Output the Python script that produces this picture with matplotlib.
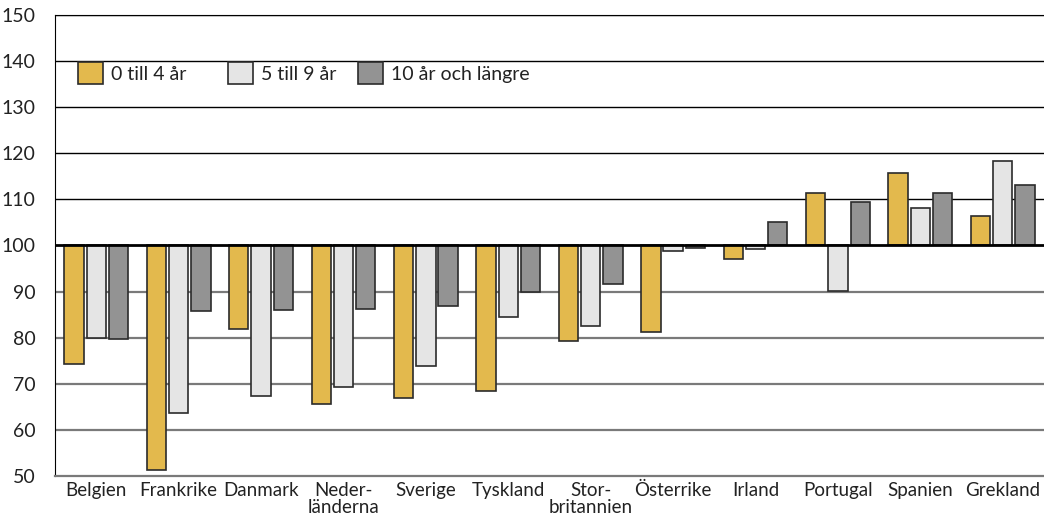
import matplotlib
matplotlib.use("Agg")
import matplotlib.pyplot as plt
import numpy as np
from matplotlib.patches import Patch
from matplotlib.legend import Legend

categories = ["Belgien", "Frankrike", "Danmark", "Neder-\nländerna", "Sverige", "Tyskland",
              "Stor-\nbritannien", "Österrike", "Irland", "Portugal", "Spanien", "Grekland"]
series_names = ["0 till 4 år", "5 till 9 år", "10 år och längre"]
s0_4 = [74.3, 51.3, 81.8, 65.6, 66.9, 68.4, 79.3, 81.2, 97.0, 111.4, 115.8, 106.5]
s5_9 = [80.0, 63.6, 67.4, 69.3, 73.8, 84.5, 82.5, 98.8, 99.2, 90.1, 108.1, 118.3]
s10 = [79.8, 85.9, 86.0, 86.2, 86.8, 90.0, 91.6, 99.5, 105.0, 109.4, 111.4, 113.2]
yticks = [50, 60, 70, 80, 90, 100, 110, 120, 130, 140, 150]
base = 100

colors = ["#E3B94D", "#E5E5E5", "#939393"]
edge = "#2b2b2b"

plt.rcParams['font.family'] = ['Lato', 'DejaVu Sans']
fig = plt.figure(figsize=(10.44, 5.17), dpi=100)
ax = fig.add_axes([55/1044, 1-476/517, 1-55/1044, (476-15)/517])

x = np.arange(len(categories))
w = 0.235
offs = [-0.27, 0.0, 0.27]
for vals, c, o, name in zip([s0_4, s5_9, s10], colors, offs, series_names):
    v = np.array(vals)
    ax.bar(x + o, v - base, bottom=base, width=w, color=c, edgecolor=edge,
           linewidth=1.2, zorder=2, label=name)

for yv in yticks:
    if yv > base:
        ax.axhline(yv, color="black", lw=1.0, zorder=1)
    elif base > yv > yticks[0]:
        ax.axhline(yv, color="#7a7a7a", lw=1.6, zorder=1)
ax.axhline(base, color="black", lw=2.0, zorder=3)

ax.set_ylim(50, 150)
ax.set_xlim(-0.5, len(categories) - 0.5)
ax.set_yticks(yticks)
ax.set_yticklabels([str(t) for t in yticks], fontsize=14, color="#222222")
ax.set_xticks(x)
ax.set_xticklabels(categories, fontsize=13.5, color="#222222", linespacing=1.0)
ax.tick_params(axis="both", length=0)
ax.tick_params(axis="y", pad=14)
ax.tick_params(axis="x", pad=4)
ax.spines["right"].set_visible(False)
ax.spines["top"].set_color("black")
ax.spines["left"].set_color("black")
ax.spines["bottom"].set_color("#7a7a7a")
ax.spines["bottom"].set_linewidth(1.6)

leg_x = [0.0233, 0.175, 0.306]
for c, name, lx in zip(colors, series_names, leg_x):
    h = Patch(facecolor=c, edgecolor=edge, linewidth=1.2)
    lg = Legend(ax, [h], [name], loc="upper left", bbox_to_anchor=(lx, 0.897),
                frameon=False, fontsize=14, handlelength=1.3, handleheight=1.35,
                handletextpad=0.4, borderaxespad=0, borderpad=0)
    for t in lg.get_texts():
        t.set_color("#222222")
    ax.add_artist(lg)

fig.savefig("out.png", dpi=100)
